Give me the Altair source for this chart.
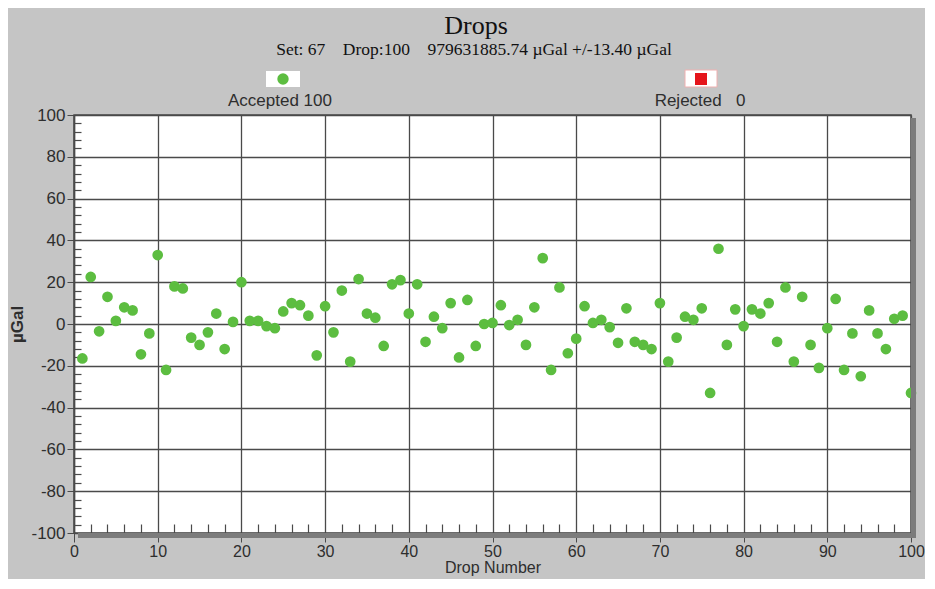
import altair as alt
import pandas as pd

# ---- data ----
drops = list(range(1, 101))
ugal = [
    -16.5, 22.5, -3.5, 13.0, 1.5, 8.0, 6.5, -14.5, -4.5, 33.0,
    -22.0, 18.0, 17.0, -6.5, -10.0, -4.0, 5.0, -12.0, 1.0, 20.0,
    1.5, 1.5, -1.0, -2.0, 6.0, 10.0, 9.0, 4.0, -15.0, 8.5,
    -4.0, 16.0, -18.0, 21.5, 5.0, 3.0, -10.5, 19.0, 21.0, 5.0,
    19.0, -8.5, 3.5, -2.0, 10.0, -16.0, 11.5, -10.5, 0.0, 0.5,
    9.0, -0.5, 2.0, -10.0, 8.0, 31.5, -22.0, 17.5, -14.0, -7.0,
    8.5, 0.5, 2.0, -1.5, -9.0, 7.5, -8.5, -10.0, -12.0, 10.0,
    -18.0, -6.5, 3.5, 2.0, 7.5, -33.0, 36.0, -10.0, 7.0, -1.0,
    7.0, 5.0, 10.0, -8.5, 17.5, -18.0, 13.0, -10.0, -21.0, -2.0,
    12.0, -22.0, -4.5, -25.0, 6.5, -4.5, -12.0, 2.5, 4.0, -33.0,
]
rejected = []
x_major = list(range(0, 101, 10))
y_major = list(range(-100, 101, 20))
x_minor = [v for v in range(0, 101, 2) if v % 10]
y_minor = [v for v in range(-100, 101, 4) if v % 20]
title_text = "Drops"
NB = "\u00a0"
subtitle_text = ("Set: 67" + NB * 4 + "Drop:100" + NB * 4 +
                 "979631885.74 \u00b5Gal +/-13.40 \u00b5Gal")
accepted_label = f"Accepted {len(ugal)}"
rejected_label = f"Rejected{NB * 3}{len(rejected)}"

df = pd.DataFrame({"drop": drops, "ugal": ugal})

SANS = "Liberation Sans"
SERIF = "Liberation Serif"
GRID = "#4a4a4a"
TXT = "#2e2e2e"
GREEN = "#5cbd40"
W, H = 837, 418
HYPHEN = "(datum.value < 0 ? '-' : '') + abs(datum.value)"

xscale = alt.Scale(domain=[0, 100], nice=False, zero=False)
yscale = alt.Scale(domain=[-100, 100], nice=False)

base = alt.Chart(df)

points = base.mark_circle(size=115, color=GREEN, opacity=1).encode(
    x=alt.X("drop:Q", scale=xscale, axis=alt.Axis(
        orient="bottom", values=x_major, grid=True, gridColor=GRID, gridWidth=1.3,
        domain=False, tickSize=9, tickColor=GRID, labelPadding=1,
        labelFont=SANS, labelFontSize=16, labelColor=TXT, labelFlush=False,
        title="Drop Number", titleFont=SANS, titleFontSize=16, titleFontWeight="normal",
        titleColor=TXT, titlePadding=0)),
    y=alt.Y("ugal:Q", scale=yscale, axis=alt.Axis(
        orient="left", values=y_major, grid=True, gridColor=GRID, gridWidth=1.3,
        domain=True, domainColor=GRID, domainWidth=1.5, tickSize=7, tickColor=GRID,
        labelPadding=2, labelFont=SANS, labelFontSize=17, labelColor=TXT,
        labelFlush=False, labelExpr=HYPHEN,
        title="\u00b5Gal", titleFont=SANS, titleFontSize=17, titleFontWeight="bold",
        titleColor=TXT, titlePadding=4)),
)

minor = base.mark_point(opacity=0).encode(
    x=alt.X("drop:Q", scale=xscale, axis=alt.Axis(
        orient="bottom", values=x_minor, offset=-9, tickSize=9, tickColor=GRID,
        tickWidth=1.2, labels=False, domain=False, grid=False, title=None)),
    y=alt.Y("ugal:Q", scale=yscale, axis=alt.Axis(
        orient="left", values=y_minor, offset=-7, tickSize=7, tickColor=GRID,
        tickWidth=1.2, labels=False, domain=False, grid=False, title=None)),
)

one = alt.Data(values=[{}])

shadow_r = alt.Chart(one).mark_rect(color="#7c7c7c").encode(
    x=alt.value(W), x2=alt.value(W + 5), y=alt.value(3), y2=alt.value(H + 5))
shadow_b = alt.Chart(one).mark_rect(color="#7c7c7c").encode(
    x=alt.value(4), x2=alt.value(W + 5), y=alt.value(H), y2=alt.value(H + 5))

title = alt.Chart(one).mark_text(font=SERIF, fontSize=26, color="#111").encode(
    x=alt.value(402), y=alt.value(-89), text=alt.value(title_text))
subtitle = alt.Chart(one).mark_text(font=SERIF, fontSize=17.5, color="#111").encode(
    x=alt.value(400), y=alt.value(-65), text=alt.value(subtitle_text))

acc_box = alt.Chart(one).mark_rect(color="#ffffff").encode(
    x=alt.value(192), x2=alt.value(226), y=alt.value(-44), y2=alt.value(-28))
acc_dot = alt.Chart(one).mark_circle(size=130, color=GREEN, opacity=1).encode(
    x=alt.value(209), y=alt.value(-36))
acc_txt = alt.Chart(one).mark_text(font=SANS, fontSize=17, color=TXT).encode(
    x=alt.value(206), y=alt.value(-14), text=alt.value(accepted_label))

rej_box = alt.Chart(one).mark_rect(color="#ffffff", stroke="#f0b0b0", strokeWidth=1).encode(
    x=alt.value(611), x2=alt.value(643), y=alt.value(-45), y2=alt.value(-28))
rej_sq = alt.Chart(one).mark_rect(color="#e5141b").encode(
    x=alt.value(621), x2=alt.value(633), y=alt.value(-42), y2=alt.value(-30))
rej_txt = alt.Chart(one).mark_text(font=SANS, fontSize=17, color=TXT).encode(
    x=alt.value(626), y=alt.value(-14), text=alt.value(rejected_label))

chart = alt.layer(
    points, minor, shadow_r, shadow_b, title, subtitle,
    acc_box, acc_dot, acc_txt, rej_box, rej_sq, rej_txt,
).resolve_axis(x="independent", y="independent").properties(
    width=W, height=H,
    autosize=alt.AutoSizeParams(type="none"),
    padding={"left": 66, "top": 107, "right": 14, "bottom": 46},
).configure(background="#c5c5c5").configure_view(
    fill="#ffffff", stroke=GRID, strokeWidth=1.5)

chart.save("out.html", embed_options={"renderer": "svg", "actions": False})
